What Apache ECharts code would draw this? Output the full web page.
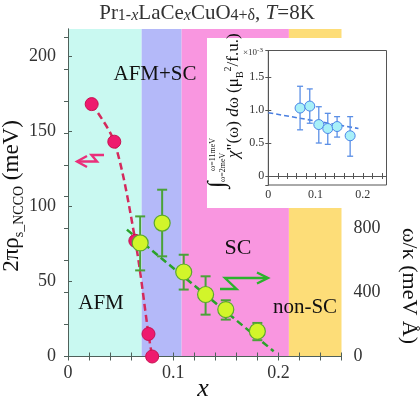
<!DOCTYPE html>
<html>
<head>
<meta charset="utf-8">
<script src="https://cdn.jsdelivr.net/npm/echarts@6/dist/echarts.min.js"></script>
<style>
  html, body { margin: 0; padding: 0; background: #fff; }
  #chart { width: 420px; height: 399px; }
</style>
</head>
<body>
<div id="chart"></div>
<script>
// phase bands along x
const bandEdges = [0, 0.07, 0.108, 0.21, 0.26];
const bandColors = ['#c9f9f1', '#b4b9f9', '#f996e0', '#fddd78'];

// spin stiffness (left axis)
const redX = [0.0225, 0.044, 0.064, 0.0765, 0.080];
const redY = [168, 143, 77, 15, 0];

// spin-wave velocity (right axis)
const greenX = [0.0686, 0.0895, 0.110, 0.1308, 0.150, 0.180];
const greenY = [711, 835, 529, 388, 294, 158];
const greenLo = [539, 627, 419, 262, 231, 102];
const greenHi = [877, 1044, 637, 502, 352, 210];
const greenFitX = [0.056, 0.1955];
const greenFitY = [794, 33];

// inset: integrated chi''
const insetX = [0.0672, 0.0877, 0.1068, 0.1258, 0.1455, 0.1731];
const insetY = [1.03, 1.06, 0.78, 0.72, 0.75, 0.61];
const insetLo = [0.70, 0.80, 0.50, 0.48, 0.59, 0.30];
const insetHi = [1.36, 1.32, 1.05, 0.95, 0.90, 0.90];
const insetFitX = [0, 0.1907];
const insetFitY = [0.96, 0.72];

const FONT = '"Liberation Serif", "DejaVu Serif", serif';
const AXIS = '#4f605a';

const chart = echarts.init(document.getElementById('chart'));

function errorBars(color, cap, width) {
  return (params, api) => {
    const x = api.value(0);
    const p1 = api.coord([x, api.value(1)]);
    const p2 = api.coord([x, api.value(2)]);
    const st = { stroke: color, lineWidth: width };
    return {
      type: 'group',
      children: [
        { type: 'line', shape: { x1: p1[0], y1: p1[1], x2: p2[0], y2: p2[1] }, style: st },
        { type: 'line', shape: { x1: p1[0] - cap, y1: p1[1], x2: p1[0] + cap, y2: p1[1] }, style: st },
        { type: 'line', shape: { x1: p2[0] - cap, y1: p2[1], x2: p2[0] + cap, y2: p2[1] }, style: st }
      ]
    };
  };
}

const zip = (a, b) => a.map((v, i) => [v, b[i]]);
const zip3 = (a, b, c) => a.map((v, i) => [v, b[i], c[i]]);

const mainTick = { show: true, inside: true, length: 4, lineStyle: { color: AXIS } };
const mainLabel = { color: '#333', fontSize: 18, fontFamily: FONT };
const insetTick = { show: true, inside: true, length: 3, lineStyle: { color: '#555' } };
const insetLabel = { color: '#333', fontSize: 12, fontFamily: FONT, margin: 4 };

function txt(x, y, text, size, opts) {
  return Object.assign({
    type: 'text', x: x, y: y, z: 3,
    style: { text: text, fontSize: size, fontFamily: FONT, fill: '#111',
      textAlign: 'center', textVerticalAlign: 'middle', align: 'center', verticalAlign: 'middle' }
  }, opts || {});
}

chart.setOption({
  animation: false,
  textStyle: { fontFamily: FONT },
  grid: [
    { left: 68, right: 78.5, top: 29, bottom: 42.5 },
    { left: 268.3, right: 33.5, top: 50.5, bottom: 214, z: 6, show: true,
      backgroundColor: '#fff', borderColor: '#555', borderWidth: 1 }
  ],
  xAxis: [
    { gridIndex: 0, type: 'value', min: 0, max: 0.26, interval: 0.1, z: 1.5,
      axisLine: { lineStyle: { color: AXIS } }, axisTick: mainTick,
      minorTick: { show: true, splitNumber: 5, length: 4, lineStyle: { color: AXIS } },
      splitLine: { show: false }, axisLabel: Object.assign({ margin: 8, showMaxLabel: false }, mainLabel) },
    { gridIndex: 0, type: 'value', position: 'top', min: 0, max: 0.26, interval: 0.1, z: 1.5,
      axisLine: { lineStyle: { color: AXIS } }, axisTick: mainTick,
      minorTick: { show: true, splitNumber: 5, length: 4, lineStyle: { color: AXIS } },
      splitLine: { show: false }, axisLabel: { show: false } },
    { gridIndex: 1, type: 'value', min: 0, max: 0.25, interval: 0.1, z: 7,
      axisLine: { lineStyle: { color: '#555' } }, axisTick: insetTick,
      minorTick: { show: true, splitNumber: 5, length: 3, lineStyle: { color: '#555' } },
      splitLine: { show: false }, axisLabel: Object.assign({ showMaxLabel: false }, insetLabel) },
    { gridIndex: 1, type: 'value', position: 'top', min: 0, max: 0.25, interval: 0.1, z: 7,
      axisLine: { lineStyle: { color: '#555' } }, axisTick: insetTick,
      minorTick: { show: true, splitNumber: 5, length: 3, lineStyle: { color: '#555' } },
      splitLine: { show: false }, axisLabel: { show: false } }
  ],
  yAxis: [
    { gridIndex: 0, type: 'value', min: 0, max: 218, interval: 50, z: 1.5,
      axisLine: { show: true, lineStyle: { color: AXIS } }, axisTick: mainTick,
      splitLine: { show: false }, axisLabel: Object.assign({ margin: 12, showMaxLabel: false }, mainLabel) },
    { gridIndex: 0, type: 'value', position: 'right', min: 0, max: 2050, interval: 200, z: 1.5,
      axisLine: { show: true, lineStyle: { color: AXIS } }, axisTick: mainTick,
      splitLine: { show: false },
      axisLabel: Object.assign({ margin: 12, showMaxLabel: false,
        formatter: v => (v % 400 === 0 && v <= 800 ? String(v) : '') }, mainLabel) },
    { gridIndex: 1, type: 'value', min: -0.136, max: 1.902, splitNumber: 4, z: 7,
      axisLine: { show: true, lineStyle: { color: '#555' } }, axisTick: insetTick,
      splitLine: { show: false },
      axisLabel: Object.assign({ showMinLabel: false, showMaxLabel: false,
        formatter: v => (v === 0 ? '0' : v.toFixed(1)) }, insetLabel) },
    { gridIndex: 1, type: 'value', position: 'right', min: -0.136, max: 1.902, splitNumber: 4, z: 7,
      axisLine: { show: true, lineStyle: { color: '#555' } }, axisTick: insetTick,
      splitLine: { show: false }, axisLabel: { show: false } }
  ],
  series: [
    { type: 'scatter', xAxisIndex: 0, yAxisIndex: 0, data: [], z: 1, silent: true,
      markArea: { silent: true, z: 1,
        data: bandColors.map((c, i) => [
          { xAxis: bandEdges[i], itemStyle: { color: c, opacity: 1 } },
          { xAxis: bandEdges[i + 1] }
        ]) } },
    { type: 'line', xAxisIndex: 0, yAxisIndex: 0, z: 2, data: zip(redX, redY), smooth: 0.3,
      symbol: 'circle', symbolSize: 13,
      itemStyle: { color: '#ee1a6e', borderColor: '#c81050', borderWidth: 1 },
      lineStyle: { color: '#d42a5c', width: 2.5, type: [7, 4] } },
    { type: 'line', xAxisIndex: 0, yAxisIndex: 1, z: 2, data: zip(greenFitX, greenFitY),
      symbol: 'none', lineStyle: { color: '#2aa22a', width: 2.5, type: [7, 4] } },
    { type: 'custom', xAxisIndex: 0, yAxisIndex: 1, z: 3, data: zip3(greenX, greenLo, greenHi),
      encode: { x: 0, y: [1, 2] }, renderItem: errorBars('#4aa238', 5, 2) },
    { type: 'scatter', xAxisIndex: 0, yAxisIndex: 1, z: 4, data: zip(greenX, greenY), symbolSize: 16,
      itemStyle: { color: '#d2f52a', borderColor: '#5aa82e', borderWidth: 1.2, opacity: 1 } },
    { type: 'line', xAxisIndex: 2, yAxisIndex: 2, z: 8, data: zip(insetFitX, insetFitY),
      symbol: 'none', lineStyle: { color: '#4a7fe0', width: 1.6, type: [5, 3] } },
    { type: 'custom', xAxisIndex: 2, yAxisIndex: 2, z: 9, data: zip3(insetX, insetLo, insetHi),
      encode: { x: 0, y: [1, 2] }, renderItem: errorBars('#5b8fe6', 3, 1.3) },
    { type: 'scatter', xAxisIndex: 2, yAxisIndex: 2, z: 10, data: zip(insetX, insetY), symbolSize: 10,
      itemStyle: { color: '#a8f0f8', borderColor: '#4a86e8', borderWidth: 1, opacity: 1 } }
  ],
  graphic: [
    // white inset backdrop
    { type: 'rect', z: 5, shape: { x: 207, y: 38, width: 213, height: 170 }, style: { fill: '#fff' } },
    // title
    { type: 'text', x: 207, y: 12, z: 3,
      style: { text: '{m|Pr}{s|1-}{si|x}{m|LaCe}{si|x}{m|CuO}{s|4+δ}{m|, }{mi|T}{m|=8K}',
        textAlign: 'center', textVerticalAlign: 'middle', align: 'center', verticalAlign: 'middle',
        fill: '#333',
        rich: {
          m: { fontSize: 21, fontFamily: FONT, fill: '#333', lineHeight: 24, verticalAlign: 'bottom' },
          mi: { fontSize: 21, fontFamily: FONT, fontStyle: 'italic', fill: '#333', lineHeight: 24, verticalAlign: 'bottom' },
          s: { fontSize: 16, fontFamily: FONT, fill: '#333', lineHeight: 18, verticalAlign: 'bottom' },
          si: { fontSize: 16, fontFamily: FONT, fontStyle: 'italic', fill: '#333', lineHeight: 18, verticalAlign: 'bottom' }
        } } },
    // left axis name
    { type: 'text', x: 12, y: 196, rotation: Math.PI / 2, z: 3,
      style: { text: '{m|2πρ}{s|s_NCCO}{m| (meV)}',
        textAlign: 'center', textVerticalAlign: 'middle', align: 'center', verticalAlign: 'middle',
        rich: {
          m: { fontSize: 23, fontFamily: FONT, fill: '#111', lineHeight: 28, verticalAlign: 'middle' },
          s: { fontSize: 14, fontFamily: FONT, fill: '#111', lineHeight: 14, verticalAlign: 'bottom' }
        } } },
    // right axis name
    txt(409, 286, 'ω/κ (meV Å)', 22, { rotation: -Math.PI / 2 }),
    // x axis name
    { type: 'text', x: 203, y: 389, z: 3,
      style: { text: 'x', fontSize: 26, fontFamily: FONT, fontStyle: 'italic', fill: '#111',
        textAlign: 'center', textVerticalAlign: 'middle', align: 'center', verticalAlign: 'middle' } },
    // phase labels
    txt(101, 303, 'AFM', 21),
    txt(155, 74, 'AFM+SC', 21),
    txt(238, 248, 'SC', 22),
    txt(305, 307, 'non-SC', 21),
    // arrows
    { type: 'polyline', z: 3, shape: { points: [[104, 155], [91.5, 155], [97, 161.5], [77, 161.5]] },
      style: { stroke: '#ea2f7a', lineWidth: 2.4, fill: null } },
    { type: 'polyline', z: 3, shape: { points: [[87, 156], [77, 161.5], [87, 167]] },
      style: { stroke: '#ea2f7a', lineWidth: 2.4, fill: null } },
    { type: 'polyline', z: 3, shape: { points: [[220, 289], [236.5, 289], [225, 278], [267, 278]] },
      style: { stroke: '#2bb22b', lineWidth: 2.4, fill: null } },
    { type: 'polyline', z: 3, shape: { points: [[257, 272.5], [268, 278], [257, 283.5]] },
      style: { stroke: '#2bb22b', lineWidth: 2.4, fill: null } },
    // inset multiplier
    { type: 'text', x: 243, y: 53, z: 11,
      style: { text: '×10{e|-3}', fontSize: 9, fontFamily: FONT, fill: '#333',
        textAlign: 'left', textVerticalAlign: 'middle', align: 'left', verticalAlign: 'middle',
        rich: { e: { fontSize: 7, fontFamily: FONT, fill: '#333', verticalAlign: 'top', lineHeight: 12 } } } },
    // inset y name (rotated)
    { type: 'group', x: 234, y: 188, rotation: Math.PI / 2, z: 11,
      children: [
        { type: 'text', z: 11, style: { text: '∫', x: 0, y: -16, fontSize: 24, fontFamily: FONT, fill: '#111',
            textAlign: 'left', textVerticalAlign: 'middle', align: 'left', verticalAlign: 'middle' } },
        { type: 'text', z: 11, style: { text: 'ω=11meV', x: 17, y: -21, fontSize: 8, fontFamily: FONT, fill: '#111',
            textAlign: 'left', textVerticalAlign: 'middle', align: 'left', verticalAlign: 'middle' } },
        { type: 'text', z: 11, style: { text: 'ω=2meV', x: 6, y: -11, fontSize: 8, fontFamily: FONT, fill: '#111',
            textAlign: 'left', textVerticalAlign: 'middle', align: 'left', verticalAlign: 'middle' } },
        { type: 'text', z: 11, style: {
            text: '{i|χ}{m|"(ω) }{i|d}{m|ω (μ}{sub|B}{sup|2}{m|/f.u.)}', x: 30, y: 0,
            textAlign: 'left', textVerticalAlign: 'middle', align: 'left', verticalAlign: 'middle',
            rich: {
              m: { fontSize: 17, fontFamily: FONT, fill: '#111', lineHeight: 22, verticalAlign: 'middle' },
              i: { fontSize: 17, fontFamily: FONT, fontStyle: 'italic', fill: '#111', lineHeight: 22, verticalAlign: 'middle' },
              sub: { fontSize: 10, fontFamily: FONT, fill: '#111', lineHeight: 11, verticalAlign: 'bottom' },
              sup: { fontSize: 10, fontFamily: FONT, fill: '#111', lineHeight: 11, verticalAlign: 'top' }
            } } }
      ] }
  ]
});
</script>
</body>
</html>
